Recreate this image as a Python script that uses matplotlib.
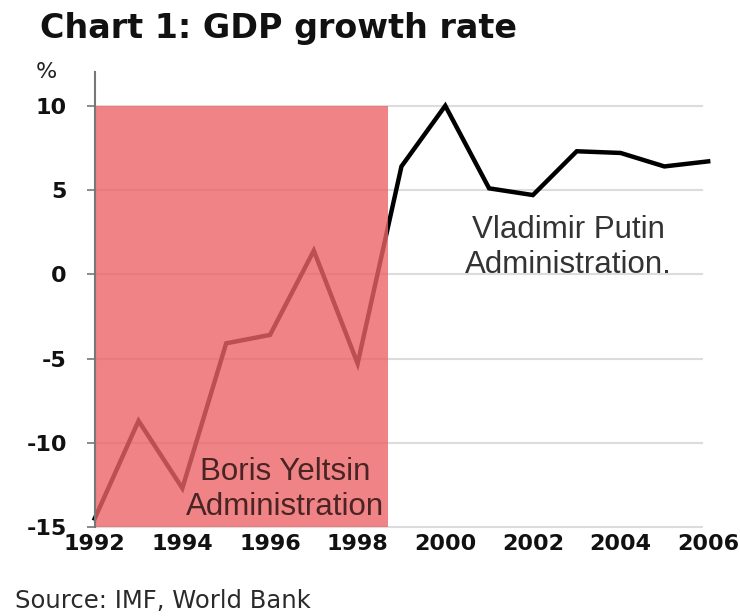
import matplotlib
matplotlib.use("Agg")
import matplotlib.pyplot as plt

years = [1992, 1993, 1994, 1995, 1996, 1997, 1998, 1999, 2000, 2001, 2002, 2003, 2004, 2005, 2006]
gdp_growth = [-14.5, -8.7, -12.7, -4.1, -3.6, 1.4, -5.3, 6.4, 10.0, 5.1, 4.7, 7.3, 7.2, 6.4, 6.7]
yticks = [10, 5, 0, -5, -10, -15]
xticks = [1992, 1994, 1996, 1998, 2000, 2002, 2004, 2006]
yeltsin_end = 1998.7

fig = plt.figure(figsize=(7.4, 6.16), dpi=100)
ax = fig.add_axes([0.128, 0.1445, 0.829, 0.7385])

ax.set_xlim(1992, 2006)
ax.set_ylim(-15, 12)

for y in yticks:
    ax.plot([1992, 2005.85], [y, y], color="#dcdcdc", lw=1.5, zorder=1, clip_on=False)

ax.plot(years, gdp_growth, color="black", lw=3.2, zorder=2, clip_on=False,
        solid_joinstyle="miter")

ax.fill_between([1992, yeltsin_end], -15, 10, color=(235/255, 100/255, 103/255),
                alpha=0.8, lw=0, zorder=3)

ax.text(1996.35, -12.75, "Boris Yeltsin\nAdministration", ha="center", va="center",
        fontsize=22.5, family="Liberation Sans", color="#4a2424", linespacing=1.22, zorder=4)
ax.text(2002.82, 1.6, "Vladimir Putin\nAdministration.", ha="center", va="center",
        fontsize=22.5, family="Liberation Sans", color="#333333", linespacing=1.22, zorder=4)

for s in ["top", "right", "bottom"]:
    ax.spines[s].set_visible(False)
ax.spines["left"].set_color("#777777")
ax.spines["left"].set_linewidth(1.5)
ax.spines["left"].set_zorder(5)

ax.set_yticks(yticks)
ax.set_yticklabels([str(v) for v in yticks], fontsize=16, fontweight="bold",
                   family="DejaVu Sans", color="#111111")
ax.set_xticks(xticks)
ax.set_xticklabels([str(v) for v in xticks], fontsize=16, fontweight="bold",
                   family="DejaVu Sans", color="#111111")
ax.tick_params(axis="y", length=6, width=1.2, color="#777777", pad=14)
ax.tick_params(axis="x", length=0, pad=5)

fig.text(0.054, 0.953, "Chart 1: GDP growth rate", fontsize=24, fontweight="bold",
         family="DejaVu Sans", color="#111111", va="center", ha="left")
fig.text(0.062, 0.883, "%", fontsize=16, family="DejaVu Sans", color="#222222",
         va="center", ha="center")
fig.text(0.02, 0.025, "Source: IMF, World Bank", fontsize=17.5, family="DejaVu Sans",
         color="#2a2a2a", va="center", ha="left")

fig.savefig("out.png", dpi=100)
